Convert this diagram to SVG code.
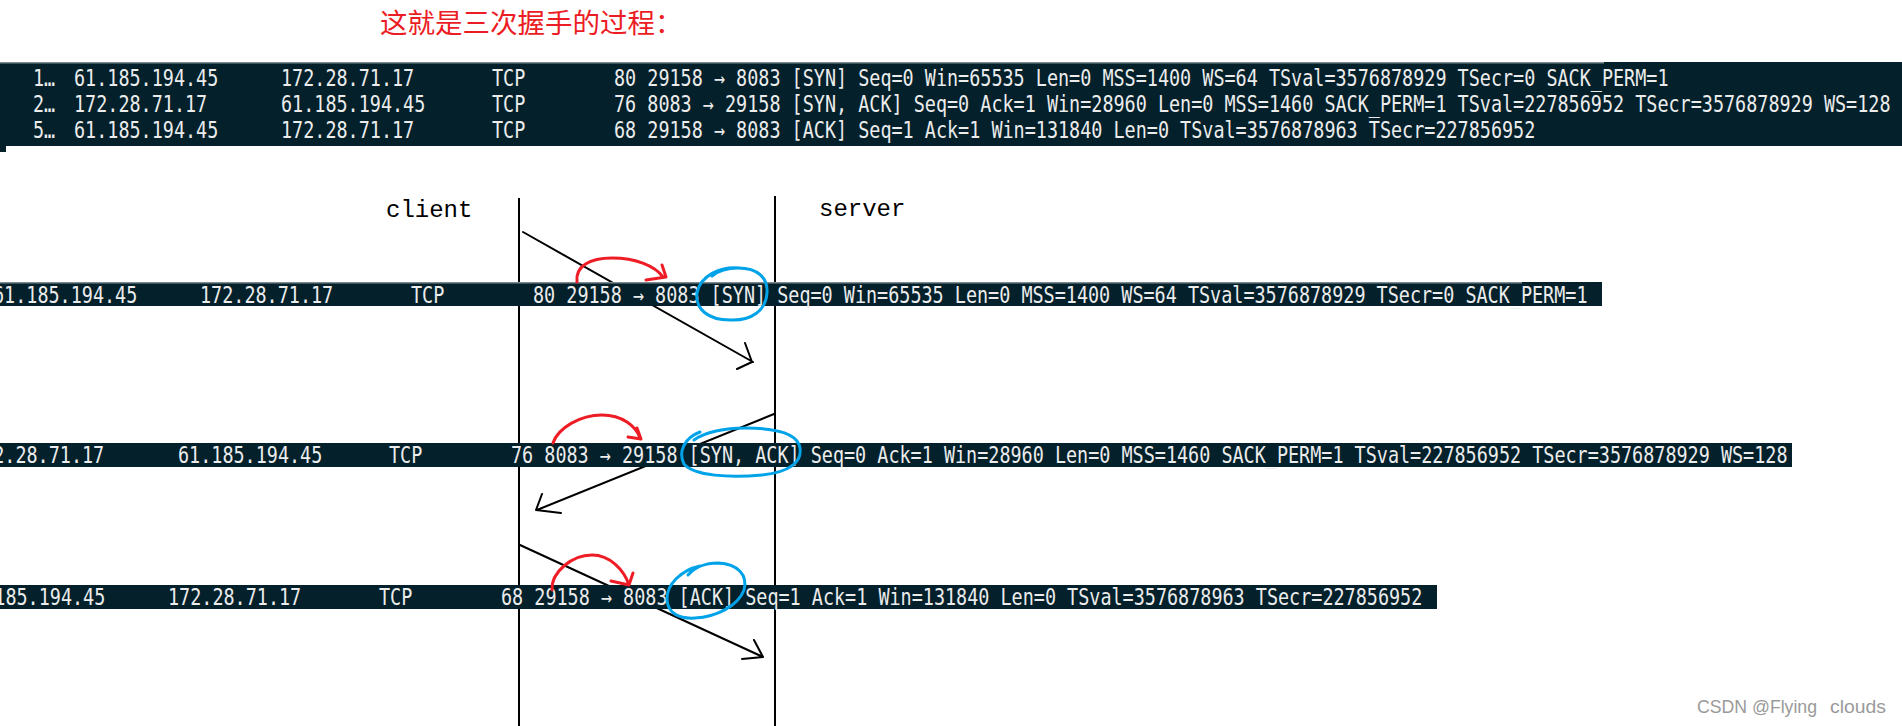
<svg xmlns="http://www.w3.org/2000/svg" width="1902" height="726" viewBox="0 0 1902 726">
<style>
.bg{fill:#ffffff}
.band{fill:#03202b}
.edge{stroke:#7d8a90;stroke-width:1.5}
.mono{font-family:"DejaVu Sans Mono","Liberation Mono",monospace;font-size:23px;fill:#ececec}
.lbl{font-family:"Liberation Mono","DejaVu Sans Mono",monospace;font-size:24px;fill:#000}
.title{font-family:"Noto Sans CJK SC","Noto Sans",sans-serif;font-size:27.5px;fill:#ec1c24}
.life{stroke:#000;stroke-width:2;fill:none}
.msg{stroke:#000;stroke-width:2;fill:none;stroke-linecap:round;stroke-linejoin:round}
.red{stroke:#ee1c24;stroke-width:3;fill:none;stroke-linecap:round;stroke-linejoin:round}
.blue{stroke:#00a2e8;stroke-width:3;fill:none;stroke-linecap:round}
.wm{font-family:"Liberation Sans","Noto Sans",sans-serif;font-size:18px;fill:#9a9a9a}
</style>
<rect class="bg" x="0" y="0" width="1902" height="726"/>

<g id="title">
<text class="title" x="380" y="33">这就是三次握手的过程：</text>
</g>

<g id="capture-table">
<rect class="band" x="0" y="62" width="1902" height="84"/>
<rect class="band" x="0" y="146" width="6" height="6"/>
<line class="edge" x1="0" y1="62.75" x2="1604" y2="62.75"/>
<text class="mono" x="33" y="86" textLength="22.2" lengthAdjust="spacingAndGlyphs">1…</text>
<text class="mono" x="74" y="86" textLength="144.3" lengthAdjust="spacingAndGlyphs">61.185.194.45</text>
<text class="mono" x="281" y="86" textLength="133.2" lengthAdjust="spacingAndGlyphs">172.28.71.17</text>
<text class="mono" x="492" y="86" textLength="33.3" lengthAdjust="spacingAndGlyphs">TCP</text>
<text class="mono" x="614" y="86" textLength="1054.5" lengthAdjust="spacingAndGlyphs">80 29158 → 8083 [SYN] Seq=0 Win=65535 Len=0 MSS=1400 WS=64 TSval=3576878929 TSecr=0 SACK_PERM=1</text>
<text class="mono" x="33" y="112" textLength="22.2" lengthAdjust="spacingAndGlyphs">2…</text>
<text class="mono" x="74" y="112" textLength="133.2" lengthAdjust="spacingAndGlyphs">172.28.71.17</text>
<text class="mono" x="281" y="112" textLength="144.3" lengthAdjust="spacingAndGlyphs">61.185.194.45</text>
<text class="mono" x="492" y="112" textLength="33.3" lengthAdjust="spacingAndGlyphs">TCP</text>
<text class="mono" x="614" y="112" textLength="1276.5" lengthAdjust="spacingAndGlyphs">76 8083 → 29158 [SYN, ACK] Seq=0 Ack=1 Win=28960 Len=0 MSS=1460 SACK_PERM=1 TSval=227856952 TSecr=3576878929 WS=128</text>
<text class="mono" x="33" y="138" textLength="22.2" lengthAdjust="spacingAndGlyphs">5…</text>
<text class="mono" x="74" y="138" textLength="144.3" lengthAdjust="spacingAndGlyphs">61.185.194.45</text>
<text class="mono" x="281" y="138" textLength="133.2" lengthAdjust="spacingAndGlyphs">172.28.71.17</text>
<text class="mono" x="492" y="138" textLength="33.3" lengthAdjust="spacingAndGlyphs">TCP</text>
<text class="mono" x="614" y="138" textLength="921.3" lengthAdjust="spacingAndGlyphs">68 29158 → 8083 [ACK] Seq=1 Ack=1 Win=131840 Len=0 TSval=3576878963 TSecr=227856952</text>
</g>

<g id="client">
<text class="lbl" x="386" y="217">client</text>
</g>
<g id="server">
<text class="lbl" x="819" y="216">server</text>
</g>

<g id="connectors">
<line class="life" x1="519" y1="198" x2="519" y2="726"/>
<line class="life" x1="775" y1="196" x2="775" y2="726"/>
<path class="msg" d="M523,232 L753,362 M745,343 L752,362 L737,369"/>
<path class="msg" d="M774,414 L537,510 M542,494 L536,510 L561,513"/>
<path class="msg" d="M520,545 L763,657 M754,640 L763,657 L742,659"/>
</g>

<g id="packet-syn">
<rect class="band" x="0" y="282" width="1602" height="24"/>
<line class="edge" x1="0" y1="282.75" x2="1522" y2="282.75"/>
<text class="mono" x="-7" y="302.5" textLength="144.3" lengthAdjust="spacingAndGlyphs">61.185.194.45</text>
<text class="mono" x="200" y="302.5" textLength="133.2" lengthAdjust="spacingAndGlyphs">172.28.71.17</text>
<text class="mono" x="411" y="302.5" textLength="33.3" lengthAdjust="spacingAndGlyphs">TCP</text>
<text class="mono" x="533" y="302.5" textLength="1054.5" lengthAdjust="spacingAndGlyphs">80 29158 → 8083 [SYN] Seq=0 Win=65535 Len=0 MSS=1400 WS=64 TSval=3576878929 TSecr=0 SACK_PERM=1</text>
</g>

<g id="packet-synack">
<rect class="band" x="0" y="443" width="1792" height="24"/>
<text class="mono" x="-29" y="463" textLength="133.2" lengthAdjust="spacingAndGlyphs">172.28.71.17</text>
<text class="mono" x="178" y="463" textLength="144.3" lengthAdjust="spacingAndGlyphs">61.185.194.45</text>
<text class="mono" x="389" y="463" textLength="33.3" lengthAdjust="spacingAndGlyphs">TCP</text>
<text class="mono" x="511" y="463" textLength="1276.5" lengthAdjust="spacingAndGlyphs">76 8083 → 29158 [SYN, ACK] Seq=0 Ack=1 Win=28960 Len=0 MSS=1460 SACK_PERM=1 TSval=227856952 TSecr=3576878929 WS=128</text>
</g>

<g id="packet-ack">
<rect class="band" x="0" y="585" width="1437" height="24"/>
<text class="mono" x="-39" y="605" textLength="144.3" lengthAdjust="spacingAndGlyphs">61.185.194.45</text>
<text class="mono" x="168" y="605" textLength="133.2" lengthAdjust="spacingAndGlyphs">172.28.71.17</text>
<text class="mono" x="379" y="605" textLength="33.3" lengthAdjust="spacingAndGlyphs">TCP</text>
<text class="mono" x="501" y="605" textLength="921.3" lengthAdjust="spacingAndGlyphs">68 29158 → 8083 [ACK] Seq=1 Ack=1 Win=131840 Len=0 TSval=3576878963 TSecr=227856952</text>
</g>

<g id="annotations">
<path class="red" d="M577,282 C575,266 590,258 612,258 C636,258 655,266 663,277 M662,265 L666,277 L646,280"/>
<path class="red" d="M553,443 C558,428 580,415 602,415 C622,415 636,426 640,438 M637,428 L641,439 L628,437"/>
<path class="red" d="M552,590 C551,572 572,555 592,555 C610,555 624,570 629,585 M633,573 L629,585 L611,581"/>
<path class="blue" d="M740,268 C720,266 700,276 697,293 C695,309 708,320 730,320 C752,321 766,310 767,293 C768,278 758,268 738,268 C728,268 718,271 712,276"/>
<path class="blue" d="M700,432 C684,438 678,452 684,464 C694,476 730,478 762,475 C790,472 802,462 800,448 C798,434 778,428 745,428 C725,428 705,432 694,440"/>
<path class="blue" d="M700,566 C682,570 666,584 667,600 C668,614 680,619 695,618 C716,617 738,606 744,590 C748,575 738,564 718,563 C705,563 694,568 688,575"/>
</g>

<g id="watermark">
<text class="wm" x="1697" y="713" textLength="120" lengthAdjust="spacingAndGlyphs">CSDN @Flying</text>
<text class="wm" x="1830" y="713" textLength="56" lengthAdjust="spacingAndGlyphs">clouds</text>
</g>
</svg>
